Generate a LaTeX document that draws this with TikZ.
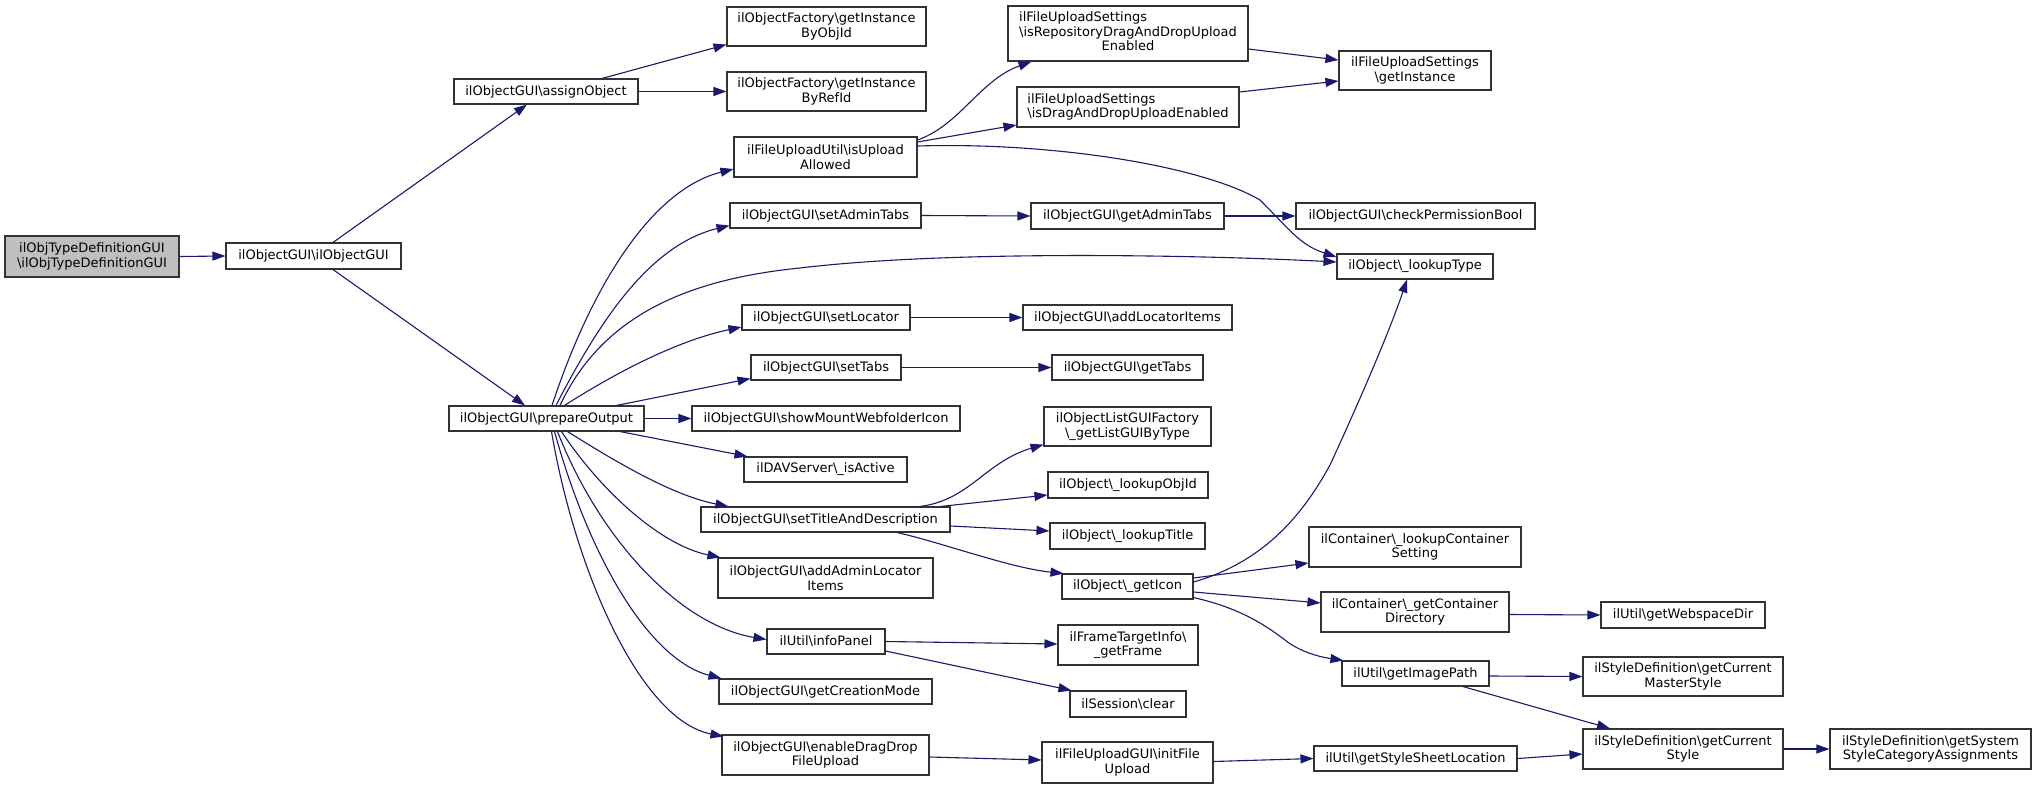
\documentclass[tikz,border=0pt]{standalone}
\usepackage{fontspec}
\setmainfont{DejaVu Sans}
\usetikzlibrary{arrows.meta}
\definecolor{edgec}{HTML}{191970}
\definecolor{boxc}{HTML}{333333}
\definecolor{rootfill}{HTML}{BFBFBF}
\newcommand\BSL{\textbackslash}
\begin{document}
\begin{tikzpicture}[x=1pt,y=-1pt,
  box/.style={draw=boxc,line width=1.1pt,inner sep=0pt,align=center,font=\fontsize{13}{14.5}\selectfont},
  sz/.style 2 args={minimum width=#1pt,minimum height=#2pt},
  edge/.style={draw=edgec,line width=1.1pt,-{Triangle[length=13pt,width=9pt]}}]
\useasboundingbox[fill=white] (0,0) rectangle (2035,789);
% nodes
\node[box,fill=rootfill,sz={174}{41}] (A) at (92,256.5) {ilObjTypeDefinitionGUI\\\BSL ilObjTypeDefinitionGUI};
\node[box,sz={175}{26}] (B) at (313.5,256) {ilObjectGUI\BSL ilObjectGUI};
\node[box,sz={195}{25}] (C) at (546.5,418.5) {ilObjectGUI\BSL prepareOutput};
\node[box,sz={184}{25}] (D) at (546,91.5) {ilObjectGUI\BSL assignObject};
\node[box,sz={199}{39}] (E) at (826.5,26.5) {ilObjectFactory\BSL getInstance\\ByObjId};
\node[box,sz={199}{39}] (F) at (826.5,91.5) {ilObjectFactory\BSL getInstance\\ByRefId};
\node[box,sz={240}{55}] (G) at (1128,33.5) {\begin{tabular}{@{}l@{}}ilFileUploadSettings\\\BSL isRepositoryDragAndDropUpload\\\multicolumn{1}{@{}c@{}}{Enabled}\end{tabular}};
\node[box,sz={222}{40},align=left] (H) at (1128,107) {ilFileUploadSettings\\\BSL isDragAndDropUploadEnabled};
\node[box,sz={152}{39}] (I) at (1415,70.5) {ilFileUploadSettings\\\BSL getInstance};
\node[box,sz={239}{26}] (J) at (1415.5,216) {ilObjectGUI\BSL checkPermissionBool};
\node[box,sz={156}{25}] (K) at (1415,266.5) {ilObject\BSL\_lookupType};
\node[box,sz={193}{26}] (L) at (1127.5,216) {ilObjectGUI\BSL getAdminTabs};
\node[box,sz={209}{25}] (M) at (1127.5,317.5) {ilObjectGUI\BSL addLocatorItems};
\node[box,sz={151}{25}] (N) at (1127.5,367.5) {ilObjectGUI\BSL getTabs};
\node[box,sz={183}{40}] (O) at (825.5,157) {ilFileUploadUtil\BSL isUpload\\Allowed};
\node[box,sz={191}{25}] (P) at (825.5,215.5) {ilObjectGUI\BSL setAdminTabs};
\node[box,sz={168}{25}] (Q) at (826,317.5) {ilObjectGUI\BSL setLocator};
\node[box,sz={150}{25}] (R) at (826,367.5) {ilObjectGUI\BSL setTabs};
\node[box,sz={268}{25}] (S) at (826,418.5) {ilObjectGUI\BSL showMountWebfolderIcon};
\node[box,sz={163}{25}] (T) at (825.5,469.5) {ilDAVServer\BSL\_isActive};
\node[box,sz={249}{25}] (U) at (825.5,519.5) {ilObjectGUI\BSL setTitleAndDescription};
\node[box,sz={215}{40}] (V) at (825.5,578) {ilObjectGUI\BSL addAdminLocator\\Items};
\node[box,sz={118}{25}] (W) at (826,641.5) {ilUtil\BSL infoPanel};
\node[box,sz={213}{25}] (X) at (825.5,691.5) {ilObjectGUI\BSL getCreationMode};
\node[box,sz={207}{40}] (Y) at (825.5,755) {ilObjectGUI\BSL enableDragDrop\\FileUpload};
\node[box,sz={167}{39}] (Z1) at (1127.5,426.5) {ilObjectListGUIFactory\\\BSL\_getListGUIByType};
\node[box,sz={160}{26}] (Z2) at (1128,485) {ilObject\BSL\_lookupObjId};
\node[box,sz={155}{26}] (Z3) at (1127.5,536) {ilObject\BSL\_lookupTitle};
\node[box,sz={131}{25}] (Z4) at (1127.5,586.5) {ilObject\BSL\_getIcon};
\node[box,sz={140}{40}] (Z5) at (1128,645) {ilFrameTargetInfo\BSL\\\_getFrame};
\node[box,sz={116}{26}] (Z6) at (1128,704) {ilSession\BSL clear};
\node[box,sz={171}{41}] (Z7) at (1127.5,762.5) {ilFileUploadGUI\BSL initFile\\Upload};
\node[box,sz={212}{40}] (Z8) at (1415,547) {ilContainer\BSL\_lookupContainer\\Setting};
\node[box,sz={188}{40}] (Z9) at (1415,612) {ilContainer\BSL\_getContainer\\Directory};
\node[box,sz={147}{25}] (Z10) at (1415.5,673.5) {ilUtil\BSL getImagePath};
\node[box,sz={203}{25}] (Z11) at (1415.5,758.5) {ilUtil\BSL getStyleSheetLocation};
\node[box,sz={164}{26}] (Z12) at (1683,615) {ilUtil\BSL getWebspaceDir};
\node[box,sz={200}{39}] (Z13) at (1683,676.5) {ilStyleDefinition\BSL getCurrent\\MasterStyle};
\node[box,sz={200}{40}] (Z14) at (1683,749) {ilStyleDefinition\BSL getCurrent\\Style};
\node[box,sz={201}{40}] (Z15) at (1930.5,749) {ilStyleDefinition\BSL getSystem\\StyleCategoryAssignments};
% edges
\draw[edge] (A.east) -- (B.west);
\draw[edge] ([xshift=19.5pt]B.north) -- ([xshift=-19pt]D.south);
\draw[edge] ([xshift=19.5pt]B.south) -- ([xshift=-21.5pt]C.north);
\draw[edge] ([xshift=56pt]D.north) -- ([yshift=2pt]E.south west);
\draw[edge] (D.east) -- (F.west);
\draw[edge] ([xshift=5.5pt]C.north) .. controls (590,290) and (650,190) .. ([yshift=-12pt]O.west);
\draw[edge] ([xshift=9.5pt]C.north) .. controls (600,320) and (650,245) .. ([yshift=-10pt]P.west);
\draw[edge] ([xshift=13.5pt]C.north) .. controls (600,320) and (680,280) .. (800,268) .. controls (950,250) and (1200,255) .. ([yshift=4.5pt]K.west);
\draw[edge] ([xshift=18pt]C.north) .. controls (620,370) and (680,340) .. ([yshift=-9.5pt]Q.west);
\draw[edge] ([xshift=70pt]C.north) -- ([yshift=2pt]R.south west);
\draw[edge] (C.east) -- (S.west);
\draw[edge] ([xshift=73.5pt]C.south) -- ([xshift=4pt]T.north west);
\draw[edge] ([xshift=21pt]C.south) .. controls (610,458) and (670,495) .. ([xshift=28pt]U.north west);
\draw[edge] ([xshift=15pt]C.south) .. controls (600,490) and (660,545) .. ([xshift=3pt]V.north west);
\draw[edge] ([xshift=11pt]C.south) .. controls (600,540) and (680,625) .. ([yshift=2pt]W.west);
\draw[edge] ([xshift=8pt]C.south) .. controls (590,560) and (650,660) .. ([xshift=3pt]X.north west);
\draw[edge] ([xshift=5pt]C.south) .. controls (575,570) and (640,720) .. ([xshift=2pt,yshift=-2pt]Y.north west);
\draw[edge] ([yshift=17pt]O.east) .. controls (960,125) and (980,80) .. ([xshift=24pt]G.south west);
\draw[edge] ([yshift=15pt]O.east) -- ([yshift=-18pt]H.west);
\draw[edge] ([yshift=11pt]O.east) .. controls (1050,142) and (1200,165) .. (1260,200) .. controls (1290,230) and (1300,245) .. ([yshift=9.5pt]K.west);
\draw[edge] ([yshift=-15.5pt]G.east) -- ([yshift=10.5pt]I.west);
\draw[edge] ([yshift=15pt]H.east) -- ([yshift=-10.5pt]I.west);
\draw[edge] (P.east) -- (L.west);
\draw[edge] (L.east) -- (J.west);
\draw[edge] (Q.east) -- (M.west);
\draw[edge] (R.east) -- (N.west);
\draw[edge] ([xshift=94.5pt]U.north) .. controls (970,500) and (985,462) .. ([yshift=2pt]Z1.south west);
\draw[edge] ([xshift=-10pt]U.north east) -- ([yshift=-10pt]Z2.west);
\draw[edge] ([yshift=-6.5pt]U.east) -- ([yshift=5pt]Z3.west);
\draw[edge] ([xshift=71.5pt]U.south) .. controls (940,542) and (1010,568) .. ([xshift=2pt]Z4.north west);
\draw[edge] (W.east) -- ([yshift=1pt]Z5.west);
\draw[edge] ([yshift=-9.5pt]W.east) -- ([xshift=2pt]Z6.north west);
\draw[edge] ([yshift=-2pt]Y.east) -- ([yshift=2.5pt]Z7.west);
\draw[edge] ([yshift=4.5pt]Z4.east) .. controls (1260,563) and (1300,520) .. (1330,465) .. controls (1360,400) and (1390,330) .. ([xshift=-8pt]K.south);
\draw[edge] ([yshift=8.5pt]Z4.east) -- ([yshift=-16pt]Z8.west);
\draw[edge] ([yshift=-5.5pt]Z4.east) -- ([yshift=9pt]Z9.west);
\draw[edge] ([yshift=2pt]Z4.south east) .. controls (1240,608) and (1265,625) .. (1285,640) .. controls (1300,652) and (1320,657) .. ([xshift=2pt]Z10.north west);
\draw[edge] ([yshift=1pt]Z7.east) -- (Z11.west);
\draw[edge] ([yshift=-2.5pt]Z9.east) -- (Z12.west);
\draw[edge] ([yshift=-2.5pt]Z10.east) -- (Z13.west);
\draw[edge] ([xshift=47.5pt]Z10.south) -- ([xshift=-73pt]Z14.north);
\draw[edge] (Z11.east) -- ([yshift=-5pt]Z14.west);
\draw[edge] (Z14.east) -- (Z15.west);
\end{tikzpicture}
\end{document}
